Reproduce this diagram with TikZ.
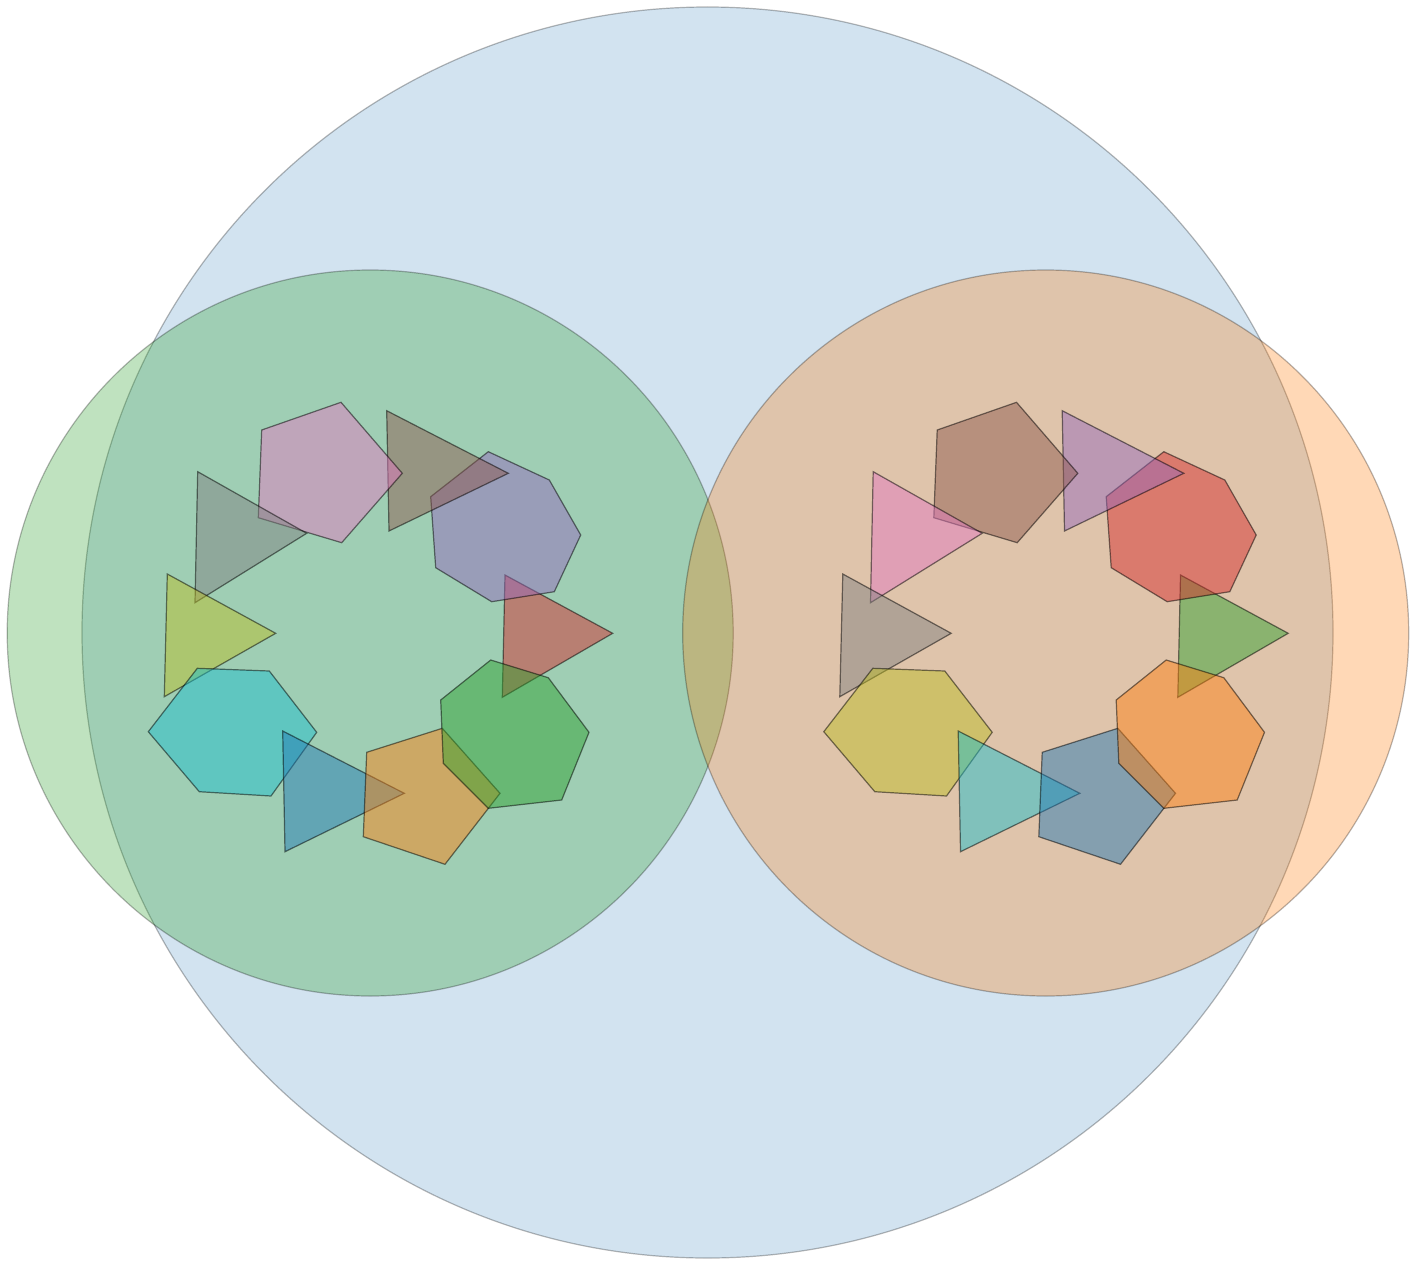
\documentclass[tikz,border=0pt]{standalone}
\definecolor{tabblue}{HTML}{1F77B4}
\definecolor{taborange}{HTML}{FF7F0E}
\definecolor{tabgreen}{HTML}{2CA02C}
\definecolor{tabred}{HTML}{D62728}
\definecolor{tabpurple}{HTML}{9467BD}
\definecolor{tabbrown}{HTML}{8C564B}
\definecolor{tabpink}{HTML}{E377C2}
\definecolor{tabgray}{HTML}{7F7F7F}
\definecolor{tabolive}{HTML}{BCBD22}
\definecolor{tabcyan}{HTML}{17BECF}
\tikzset{
  bigc/.style={draw=black, draw opacity=0.28, line width=1.2pt, fill opacity=0.3},
  poly/.style={draw=black, draw opacity=0.5, line width=1.2pt, fill opacity=0.47, line join=miter}
}
\newcommand\ringshapes{%
  \filldraw[poly, fill=sA] (505,575) -- (612.7,633.3) -- (502.3,697.3) -- cycle;
  \filldraw[poly, fill=sB] (488.3,451.7) -- (549.3,480) -- (580.7,535) -- (554.3,591.7) -- (491.7,601.7) -- (435.7,567.7) -- (430.7,496.7) -- cycle;
  \filldraw[poly, fill=sC] (386.7,410.7) -- (508.3,473.3) -- (389,531) -- cycle;
  \filldraw[poly, fill=sD] (261.7,430) -- (341,402.3) -- (402.3,473.3) -- (341.7,542.7) -- (258.3,517.7) -- cycle;
  \filldraw[poly, fill=sE] (197.7,471.7) -- (306.7,533.3) -- (195,602.7) -- cycle;
  \filldraw[poly, fill=sF] (167.3,574) -- (275.7,633.3) -- (164.3,696.7) -- cycle;
  \filldraw[poly, fill=sG] (197.3,668.3) -- (269.3,671) -- (316.7,732.3) -- (271,796) -- (199.3,791.7) -- (148.3,731.7) -- cycle;
  \filldraw[poly, fill=sH] (282.7,731) -- (404.3,793.3) -- (285,851.7) -- cycle;
  \filldraw[poly, fill=sI] (366.7,752.3) -- (442.3,728.3) -- (500,793.3) -- (445,864.3) -- (363.3,836.7) -- cycle;
  \filldraw[poly, fill=sJ] (490.7,660) -- (548.3,677.7) -- (589,732.3) -- (561.7,800) -- (488.3,808.3) -- (443.3,763.3) -- (440.7,700) -- cycle;
}
\begin{document}
\begin{tikzpicture}[x=1pt,y=-1pt]
  \useasboundingbox (0,0) rectangle (1424,1263);
  \fill[white] (0,0) rectangle (1424,1263);
  % outer circle
  \filldraw[bigc, fill=tabblue, fill opacity=0.2] (707.5,632.5) circle[radius=625.5pt];
  % inner circles
  \filldraw[bigc, fill=tabgreen] (370.2,633) circle[radius=363pt];
  \filldraw[bigc, fill=taborange] (1045.7,633) circle[radius=363pt];
  % left ring
  \begin{scope}
    \colorlet{sA}{tabred}\colorlet{sB}{tabpurple}\colorlet{sC}{tabbrown}
    \colorlet{sD}{tabpink}\colorlet{sE}{tabgray}\colorlet{sF}{tabolive}
    \colorlet{sG}{tabcyan}\colorlet{sH}{tabblue}\colorlet{sI}{taborange}
    \colorlet{sJ}{tabgreen}
    \ringshapes
  \end{scope}
  % right ring
  \begin{scope}[xshift=675.5pt]
    \colorlet{sA}{tabgreen}\colorlet{sB}{tabred}\colorlet{sC}{tabpurple}
    \colorlet{sD}{tabbrown}\colorlet{sE}{tabpink}\colorlet{sF}{tabgray}
    \colorlet{sG}{tabolive}\colorlet{sH}{tabcyan}\colorlet{sI}{tabblue}
    \colorlet{sJ}{taborange}
    \ringshapes
  \end{scope}
\end{tikzpicture}
\end{document}
